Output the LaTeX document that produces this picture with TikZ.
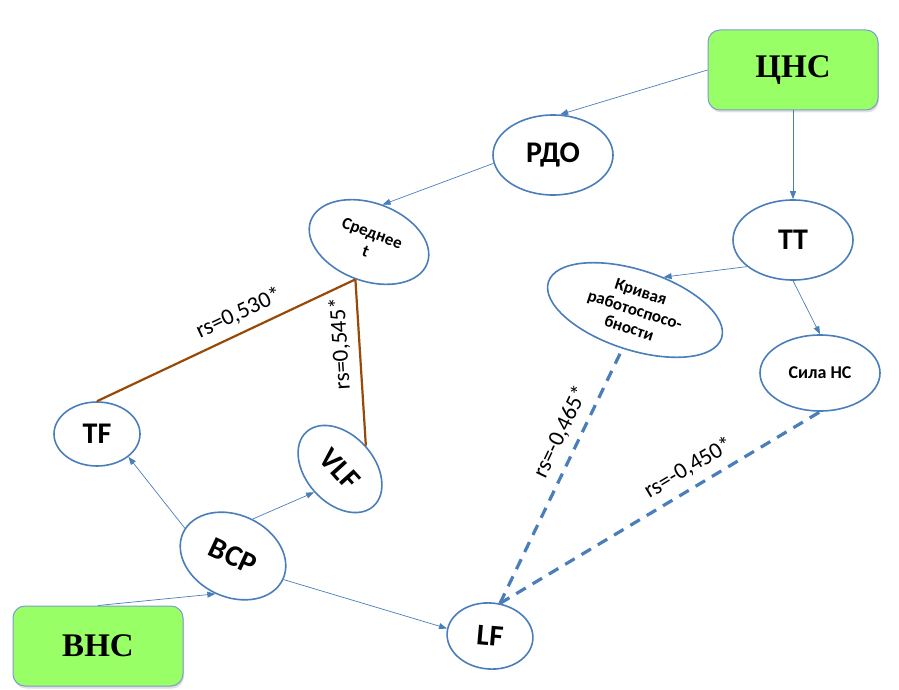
\documentclass[tikz,border=0pt]{standalone}
\usepackage{fontspec}
\setmainfont{Carlito}
\newfontfamily\timesfont{Liberation Serif}
\usetikzlibrary{shapes.geometric,arrows.meta,shadows}
\definecolor{linkblue}{RGB}{74,126,187}
\definecolor{boxgreen}{RGB}{153,255,102}
\definecolor{boxline}{RGB}{125,155,205}
\definecolor{corrbrown}{RGB}{152,72,7}

\begin{document}
\begin{tikzpicture}[x=1pt, y=-1pt,
	box/.style={draw=boxline, line width=1pt, fill=boxgreen, rounded corners=12pt,
		minimum width=170pt, minimum height=80pt,
		font=\timesfont\bfseries\fontsize{33}{36}\selectfont,
		drop shadow={shadow xshift=1pt, shadow yshift=-2.5pt, opacity=0.25}},
	oval/.style={ellipse, draw=linkblue, line width=1.6pt, fill=white, inner sep=0pt,
		align=center, font=\bfseries\fontsize{30}{32}\selectfont},
	small/.style={font=\bfseries\fontsize{17}{19}\selectfont},
	link/.style={draw=linkblue, line width=0.7pt, -{Triangle[length=8pt,width=6pt]}},
	corr/.style={draw=corrbrown, line width=2.2pt},
	neg/.style={draw=linkblue, line width=3.2pt, dash pattern=on 11pt off 8pt},
	rs/.style={font=\fontsize{23}{25}\selectfont, sloped, above=5pt}
]
\useasboundingbox (0,0) rectangle (899,690);

%boxes
\node[box] (cns) at (793,70) {ЦНС};
\node[box] (vns) at (98,646) {ВНС};

%ellipses
\node[oval, minimum width=120pt, minimum height=80pt] (rdo) at (553,155) {РДО};
\node[oval, small, rotate=-20, minimum width=124pt, minimum height=78pt] (sred) at (369,242) {Среднее\\t};
\node[oval, minimum width=120pt, minimum height=80pt] (tt) at (793,240) {ТТ};
\node[oval, small, rotate=-18, minimum width=182pt, minimum height=80pt] (kriv) at (635,310) {Кривая\\работоспосо-\\бности};
\node[oval, font=\bfseries\fontsize{18}{20}\selectfont, minimum width=120pt, minimum height=76pt] (sila) at (820,373) {Сила НС};
\node[oval, minimum width=86pt, minimum height=64pt] (tf) at (97,434) {TF};
\node[oval, rotate=-48, minimum width=100pt, minimum height=68pt] (vlf) at (340,469) {VLF};
\node[oval, rotate=-25, minimum width=110pt, minimum height=82pt] (bcp) at (233,556) {ВСР};
\node[oval, rotate=-5, minimum width=86pt, minimum height=66pt] (lf) at (490,636) {LF};

%arrows
\draw[link] (cns.west) -- (rdo.80);
\draw[link] (rdo.188) -- (sred.north);
\draw[link] (cns.south) -- (tt.north);
\draw[link] (tt.210) -- (kriv.67);
\draw[link] (tt.south) -- (sila.north);
\draw[link] (bcp.175) -- (tf.-36);
\draw[link] (bcp.87) -- (vlf.south);
\draw[link] (vns.north) -- (bcp.south);
\draw[link] (bcp.east) -- (lf.175);

%correlations
\draw[corr] (sred.south) -- (tf.north) node[rs, pos=0.42] {rs=0,530*};
\draw[corr] (vlf.north) -- (sred.south) node[rs, allow upside down, pos=0.62] {rs=0,545*};
\draw[neg] (lf.78) -- (kriv.south) node[rs, pos=0.64] {rs=-0,465*};
\draw[neg] (lf.78) -- (sila.south) node[rs, pos=0.62] {rs=-0,450*};

\end{tikzpicture}
\end{document}
